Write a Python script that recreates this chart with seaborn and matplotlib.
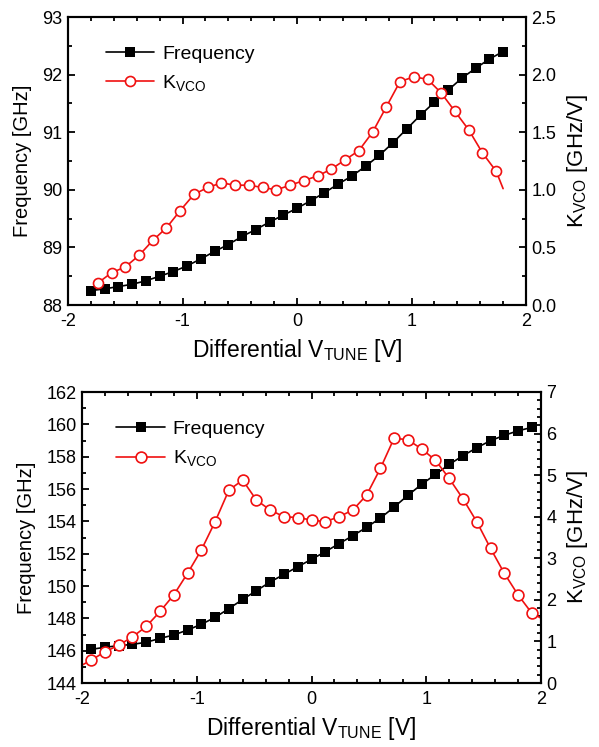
import matplotlib
matplotlib.use("Agg")
import matplotlib.pyplot as plt
from matplotlib.lines import Line2D
from matplotlib.ticker import MultipleLocator, FormatStrFormatter
import seaborn as sns

# ---- Upper panel: lower band VCO ----
top_vtune = [-1.80, -1.68, -1.56, -1.44, -1.32, -1.20, -1.08, -0.96, -0.84, -0.72,
             -0.60, -0.48, -0.36, -0.24, -0.12, 0.00, 0.12, 0.24, 0.36, 0.48,
             0.60, 0.72, 0.84, 0.96, 1.08, 1.20, 1.32, 1.44, 1.56, 1.68, 1.80]
top_freq = [88.25, 88.28, 88.32, 88.36, 88.42, 88.50, 88.58, 88.68, 88.80, 88.93,
            89.05, 89.19, 89.31, 89.44, 89.56, 89.68, 89.81, 89.95, 90.10, 90.24,
            90.41, 90.60, 90.82, 91.06, 91.30, 91.52, 91.73, 91.94, 92.11, 92.27, 92.40]
top_k_vtune = [-1.74, -1.62, -1.50, -1.38, -1.26, -1.14, -1.02, -0.90, -0.78, -0.66,
               -0.54, -0.42, -0.30, -0.18, -0.06, 0.06, 0.18, 0.30, 0.42, 0.54,
               0.66, 0.78, 0.90, 1.02, 1.14, 1.26, 1.38, 1.50, 1.62, 1.74]
top_kvco = [0.19, 0.28, 0.33, 0.43, 0.56, 0.67, 0.82, 0.96, 1.02, 1.06,
            1.04, 1.04, 1.02, 1.00, 1.04, 1.08, 1.12, 1.18, 1.26, 1.34,
            1.50, 1.72, 1.94, 1.98, 1.96, 1.84, 1.68, 1.52, 1.32, 1.16]
top_k_tail = (1.80, 1.01)

# ---- Lower panel: upper band VCO ----
bot_vtune = [-1.92, -1.80, -1.68, -1.56, -1.44, -1.32, -1.20, -1.08, -0.96, -0.84,
             -0.72, -0.60, -0.48, -0.36, -0.24, -0.12, 0.00, 0.12, 0.24, 0.36,
             0.48, 0.60, 0.72, 0.84, 0.96, 1.08, 1.20, 1.32, 1.44, 1.56,
             1.68, 1.80, 1.92]
bot_freq = [146.08, 146.21, 146.31, 146.39, 146.52, 146.76, 146.97, 147.28, 147.63, 148.06,
            148.60, 149.17, 149.71, 150.25, 150.72, 151.19, 151.65, 152.12, 152.62, 153.11,
            153.63, 154.20, 154.88, 155.61, 156.29, 156.90, 157.52, 158.06, 158.55, 158.99,
            159.32, 159.60, 159.81]
bot_kvco = [0.55, 0.75, 0.91, 1.11, 1.36, 1.72, 2.12, 2.64, 3.20, 3.88,
            4.64, 4.88, 4.40, 4.16, 4.00, 3.98, 3.92, 3.88, 4.00, 4.16,
            4.52, 5.16, 5.89, 5.85, 5.63, 5.36, 4.92, 4.43, 3.88, 3.24,
            2.64, 2.12, 1.68]
bot_k_head = (-2.00, 0.43)
bot_k_tail = (2.00, 1.56)

freq_label = "Frequency"
kvco_label = r"K$_\mathregular{VCO}$"
RED = "#f01010"

sns.set_style("ticks")
plt.rcParams["font.family"] = ["Liberation Sans", "DejaVu Sans"]
plt.rcParams.update({
    "mathtext.default": "regular",
    "axes.linewidth": 1.5,
    "axes.unicode_minus": False,
    "text.color": "black",
    "axes.labelcolor": "black",
    "axes.edgecolor": "black",
    "xtick.color": "black",
    "ytick.color": "black",
})

fig = plt.figure(figsize=(5.99, 7.47), dpi=100)
W, H = 599, 747


def panel_axes(x0, x1, y0, y1):
    return fig.add_axes([x0 / W, 1 - y1 / H, (x1 - x0) / W, (y1 - y0) / H])


def style_ticks(ax, right=False):
    ax.tick_params(which="both", direction="in", width=1.3, labelsize=13,
                   colors="black", top=not right, left=not right, right=right,
                   labelleft=not right, labelright=right)
    ax.tick_params(which="major", length=5, pad=4)
    ax.tick_params(axis="x", which="major", pad=6)
    ax.tick_params(which="minor", length=3)


def draw_panel(ax, vt, freq, kx, ky, mark_slice, fylim, fmaj, fmin, kylim, kmaj, kmin,
               kfmt, msize_sq, msize_ci, legend_anchor):
    sns.lineplot(x=vt, y=freq, ax=ax, color="black", lw=1.2, marker="s",
                 markersize=msize_sq, markeredgewidth=0, sort=False)
    ax.set_xlim(-2, 2)
    ax.set_ylim(*fylim)
    ax.xaxis.set_major_locator(MultipleLocator(1))
    ax.xaxis.set_minor_locator(MultipleLocator(0.2))
    ax.yaxis.set_major_locator(MultipleLocator(fmaj))
    ax.yaxis.set_minor_locator(MultipleLocator(fmin))
    style_ticks(ax)
    ax.set_xlabel(r"Differential V$_\mathregular{TUNE}$ [V]", fontsize=16.5, labelpad=5)
    ax.set_ylabel("Frequency [GHz]", fontsize=14.5, labelpad=7)

    ax2 = ax.twinx()
    sns.lineplot(x=kx, y=ky, ax=ax2, color=RED, lw=1.2, marker="o",
                 markersize=msize_ci, markerfacecolor="white", markeredgecolor=RED,
                 markeredgewidth=1.2, markevery=mark_slice, sort=False)
    ax2.set_xlim(-2, 2)
    ax2.set_ylim(*kylim)
    ax2.yaxis.set_major_locator(MultipleLocator(kmaj))
    ax2.yaxis.set_minor_locator(MultipleLocator(kmin))
    ax2.yaxis.set_major_formatter(FormatStrFormatter(kfmt))
    style_ticks(ax2, right=True)
    ax2.set_ylabel(r"K$_\mathregular{VCO}$ [GHz/V]", fontsize=16, labelpad=6)
    for s in ax2.spines.values():
        s.set_linewidth(1.5)
        s.set_color("black")

    handles = [
        Line2D([], [], color="black", lw=1.2, marker="s", markersize=msize_sq,
               markeredgewidth=0),
        Line2D([], [], color=RED, lw=1.2, marker="o", markersize=msize_ci,
               markerfacecolor="white", markeredgecolor=RED, markeredgewidth=1.2),
    ]
    ax2.legend(handles, [freq_label, kvco_label], loc="upper left",
               bbox_to_anchor=legend_anchor, frameon=False, fontsize=14,
               handlelength=2.5, handletextpad=0.4, labelspacing=0.55,
               borderaxespad=0)
    return ax2


# upper panel
ax_top = panel_axes(68, 526, 17, 305)
kx_top = top_k_vtune + [top_k_tail[0]]
ky_top = top_kvco + [top_k_tail[1]]
draw_panel(ax_top, top_vtune, top_freq, kx_top, ky_top, slice(0, len(top_kvco)),
           (88, 93), 1, 0.5, (0, 2.5), 0.5, 0.25, "%.1f", 6.7, 7.2, (0.065, 0.93))

# lower panel
ax_bot = panel_axes(82, 541, 392, 683)
kx_bot = [bot_k_head[0]] + bot_vtune + [bot_k_tail[0]]
ky_bot = [bot_k_head[1]] + bot_kvco + [bot_k_tail[1]]
draw_panel(ax_bot, bot_vtune, bot_freq, kx_bot, ky_bot, slice(1, 1 + len(bot_kvco)),
           (144, 162), 2, 1, (0, 7), 1, 0.2, "%d", 7.2, 7.8, (0.058, 0.93))

fig.savefig("out.png", dpi=100)
